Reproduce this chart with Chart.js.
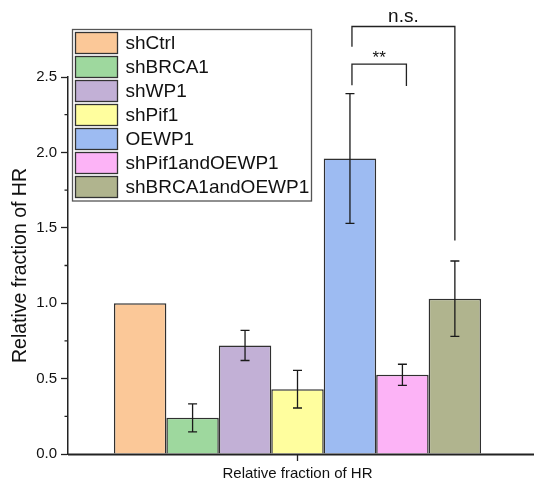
<!DOCTYPE html>
<html>
<head>
<meta charset="utf-8">
<script src="https://cdn.jsdelivr.net/npm/chart.js@4.4.1/dist/chart.umd.min.js"></script>
<style>
  html, body { margin: 0; padding: 0; background: #fff; }
  #wrap { width: 534px; height: 485px; }
</style>
</head>
<body>
<div id="wrap"><canvas id="hrChart"></canvas></div>
<script>
// values
const groups = ['shCtrl', 'shBRCA1', 'shWP1', 'shPif1', 'OEWP1', 'shPif1andOEWP1', 'shBRCA1andOEWP1'];
const means = [1.0, 0.24, 0.72, 0.43, 1.96, 0.525, 1.03];
const errors = [0, 0.093, 0.10, 0.125, 0.43, 0.07, 0.25];
const categories = [''];
const axisTitle = 'Relative fraction of HR';
const yTicks = [0, 0.5, 1.0, 1.5, 2.0, 2.5];

// significance brackets (group indexes, label, heights in data units)
const sigFrom = [4, 4];
const sigTo = [5, 6];
const sigText = ['**', 'n.s.'];
const sigTop = [2.585, 2.835];
const sigLeftEnd = [2.445, 2.70];
const sigRightEnd = [2.44, 1.415];

const colors = ['#FBC898', '#9ED89E', '#C2B0D6', '#FFFE9E', '#9DBBF2', '#FCB3F6', '#B0B48E'];
const FONT = '"Liberation Sans", Arial, sans-serif';

// error bars on top of each bar
const errorBars = {
  id: 'errorBars',
  afterDatasetsDraw(chart) {
    const ctx = chart.ctx, y = chart.scales.y;
    ctx.save();
    ctx.strokeStyle = '#1a1a1a';
    ctx.lineWidth = 1.3;
    chart.data.datasets.forEach((ds, i) => {
      const err = errors[i];
      if (!err) return;
      const x = chart.getDatasetMeta(i).data[0].x;
      const hi = y.getPixelForValue(ds.data[0] + err);
      const lo = y.getPixelForValue(ds.data[0] - err);
      ctx.beginPath();
      ctx.moveTo(x, hi); ctx.lineTo(x, lo);
      ctx.moveTo(x - 4.5, hi); ctx.lineTo(x + 4.5, hi);
      ctx.moveTo(x - 4.5, lo); ctx.lineTo(x + 4.5, lo);
      ctx.stroke();
    });
    ctx.restore();
  }
};

// minor y ticks, centre x tick, x axis line running to the edge
const axisExtras = {
  id: 'axisExtras',
  afterDraw(chart) {
    const { ctx, chartArea, scales: { x, y } } = chart;
    ctx.save();
    ctx.strokeStyle = '#222';
    ctx.lineWidth = 1.3;
    ctx.beginPath();
    for (let v = 0.25; v < y.max; v += 0.5) {
      const py = y.getPixelForValue(v);
      ctx.moveTo(chartArea.left - 3.5, py);
      ctx.lineTo(chartArea.left, py);
    }
    const cx = x.getPixelForValue(0);
    ctx.moveTo(cx, chartArea.bottom);
    ctx.lineTo(cx, chartArea.bottom + 7);
    ctx.stroke();
    ctx.lineWidth = 2;
    ctx.beginPath();
    ctx.moveTo(chartArea.left, chartArea.bottom + 0.5);
    ctx.lineTo(chart.width, chartArea.bottom + 0.5);
    ctx.stroke();
    ctx.restore();
  }
};

const sigBrackets = {
  id: 'sigBrackets',
  afterDraw(chart) {
    const { ctx, scales: { y } } = chart;
    ctx.save();
    ctx.strokeStyle = '#222';
    ctx.lineWidth = 1.3;
    ctx.fillStyle = '#111';
    ctx.textAlign = 'center';
    ctx.textBaseline = 'alphabetic';
    sigText.forEach((label, k) => {
      const x1 = chart.getDatasetMeta(sigFrom[k]).data[0].x + 2;
      const x2 = chart.getDatasetMeta(sigTo[k]).data[0].x + (label === '**' ? 4 : 0);
      const top = y.getPixelForValue(sigTop[k]);
      ctx.beginPath();
      ctx.moveTo(x1, y.getPixelForValue(sigLeftEnd[k]));
      ctx.lineTo(x1, top);
      ctx.lineTo(x2, top);
      ctx.lineTo(x2, y.getPixelForValue(sigRightEnd[k]));
      ctx.stroke();
      const star = label === '**';
      ctx.font = (star ? '17px ' : '19px ') + FONT;
      ctx.fillText(label, (x1 + x2) / 2, top - (star ? 1 : 4.5));
    });
    ctx.restore();
  }
};

// boxed legend inside the plot, upper left
const boxLegend = {
  id: 'boxLegend',
  afterDraw(chart) {
    const ctx = chart.ctx;
    const left = chart.chartArea.left + 4.5, top = 29.5;
    const rowH = 24;
    ctx.save();
    ctx.fillStyle = '#fff';
    ctx.fillRect(left, top, 239, 171.5);
    ctx.strokeStyle = '#555';
    ctx.lineWidth = 1.3;
    ctx.strokeRect(left, top, 239, 171.5);
    ctx.font = '19px ' + FONT;
    ctx.textBaseline = 'middle';
    ctx.textAlign = 'left';
    chart.data.datasets.forEach((ds, i) => {
      const sy = top + 3 + i * rowH;
      ctx.fillStyle = ds.backgroundColor;
      ctx.fillRect(left + 3, sy, 42, 21);
      ctx.strokeStyle = '#333';
      ctx.lineWidth = 1.3;
      ctx.strokeRect(left + 3, sy, 42, 21);
      ctx.fillStyle = '#111';
      ctx.fillText(ds.label, left + 53, sy + 11);
    });
    ctx.restore();
  }
};

new Chart(document.getElementById('hrChart'), {
  type: 'bar',
  data: {
    labels: categories,
    datasets: groups.map((g, i) => ({
      label: g,
      data: [means[i]],
      backgroundColor: colors[i],
      borderColor: 'rgba(25,25,25,0.9)',
      borderWidth: 1.5,
      barPercentage: 1,
      categoryPercentage: 0.8
    }))
  },
  options: {
    responsive: true,
    maintainAspectRatio: false,
    animation: false,
    devicePixelRatio: 1,
    layout: { padding: { top: 77, right: 7, left: 0, bottom: 0 } },
    plugins: {
      legend: { display: false },
      tooltip: { enabled: false }
    },
    scales: {
      x: {
        offset: true,
        afterFit(s) { s.height = 31; },
        border: { display: false },
        grid: { display: false },
        ticks: { display: false },
        title: {
          display: true,
          text: axisTitle,
          color: '#111',
          padding: { top: 0, bottom: 2 },
          font: { family: FONT, size: 15 }
        }
      },
      y: {
        min: 0,
        max: 2.5,
        afterFit(s) { s.width = 68; },
        afterBuildTicks(s) { s.ticks = yTicks.map(v => ({ value: v })); },
        border: { color: '#222', width: 1.5 },
        grid: { drawOnChartArea: false, tickLength: 7, tickColor: '#222', tickWidth: 1.3 },
        ticks: {
          padding: 4,
          color: '#111',
          font: { family: FONT, size: 15 },
          callback: v => Number(v).toFixed(1)
        },
        title: {
          display: true,
          text: axisTitle,
          color: '#111',
          padding: { top: 9, bottom: 0 },
          font: { family: FONT, size: 19.5 }
        }
      }
    }
  },
  plugins: [errorBars, axisExtras, sigBrackets, boxLegend]
});
</script>
</body>
</html>
